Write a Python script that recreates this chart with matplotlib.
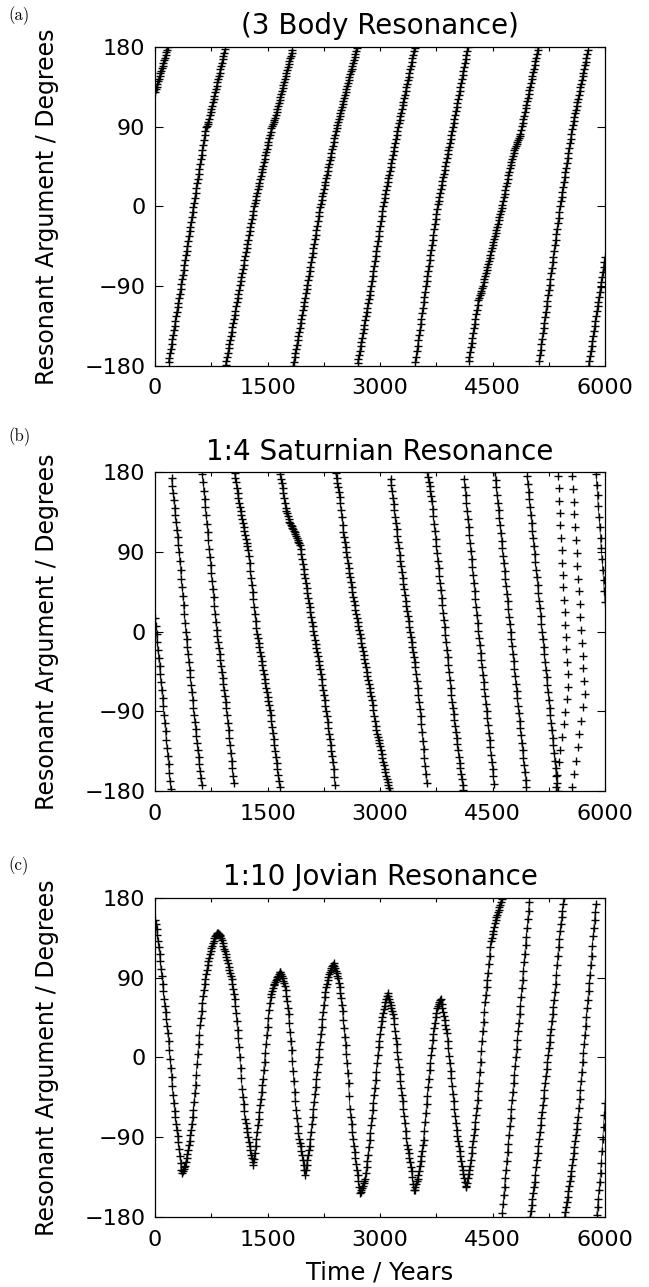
import numpy as np
import matplotlib
matplotlib.use("Agg")
import matplotlib.pyplot as plt
from matplotlib.ticker import MultipleLocator, FixedLocator

NAN = float('nan')

# ---------------- data ----------------
years = [
    0, 10, 20, 30, 40, 50, 60, 70, 80, 90, 100, 110, 120, 130, 140, 150, 160, 170, 180, 190,
    200, 210, 220, 230, 240, 250, 260, 270, 280, 290, 300, 310, 320, 330, 340, 350, 360, 370, 380, 390,
    400, 410, 420, 430, 440, 450, 460, 470, 480, 490, 500, 510, 520, 530, 540, 550, 560, 570, 580, 590,
    600, 610, 620, 630, 640, 650, 660, 670, 680, 690, 700, 710, 720, 730, 740, 750, 760, 770, 780, 790,
    800, 810, 820, 830, 840, 850, 860, 870, 880, 890, 900, 910, 920, 930, 940, 950, 960, 970, 980, 990,
    1000, 1010, 1020, 1030, 1040, 1050, 1060, 1070, 1080, 1090, 1100, 1110, 1120, 1130, 1140, 1150, 1160, 1170, 1180, 1190,
    1200, 1210, 1220, 1230, 1240, 1250, 1260, 1270, 1280, 1290, 1300, 1310, 1320, 1330, 1340, 1350, 1360, 1370, 1380, 1390,
    1400, 1410, 1420, 1430, 1440, 1450, 1460, 1470, 1480, 1490, 1500, 1510, 1520, 1530, 1540, 1550, 1560, 1570, 1580, 1590,
    1600, 1610, 1620, 1630, 1640, 1650, 1660, 1670, 1680, 1690, 1700, 1710, 1720, 1730, 1740, 1750, 1760, 1770, 1780, 1790,
    1800, 1810, 1820, 1830, 1840, 1850, 1860, 1870, 1880, 1890, 1900, 1910, 1920, 1930, 1940, 1950, 1960, 1970, 1980, 1990,
    2000, 2010, 2020, 2030, 2040, 2050, 2060, 2070, 2080, 2090, 2100, 2110, 2120, 2130, 2140, 2150, 2160, 2170, 2180, 2190,
    2200, 2210, 2220, 2230, 2240, 2250, 2260, 2270, 2280, 2290, 2300, 2310, 2320, 2330, 2340, 2350, 2360, 2370, 2380, 2390,
    2400, 2410, 2420, 2430, 2440, 2450, 2460, 2470, 2480, 2490, 2500, 2510, 2520, 2530, 2540, 2550, 2560, 2570, 2580, 2590,
    2600, 2610, 2620, 2630, 2640, 2650, 2660, 2670, 2680, 2690, 2700, 2710, 2720, 2730, 2740, 2750, 2760, 2770, 2780, 2790,
    2800, 2810, 2820, 2830, 2840, 2850, 2860, 2870, 2880, 2890, 2900, 2910, 2920, 2930, 2940, 2950, 2960, 2970, 2980, 2990,
    3000, 3010, 3020, 3030, 3040, 3050, 3060, 3070, 3080, 3090, 3100, 3110, 3120, 3130, 3140, 3150, 3160, 3170, 3180, 3190,
    3200, 3210, 3220, 3230, 3240, 3250, 3260, 3270, 3280, 3290, 3300, 3310, 3320, 3330, 3340, 3350, 3360, 3370, 3380, 3390,
    3400, 3410, 3420, 3430, 3440, 3450, 3460, 3470, 3480, 3490, 3500, 3510, 3520, 3530, 3540, 3550, 3560, 3570, 3580, 3590,
    3600, 3610, 3620, 3630, 3640, 3650, 3660, 3670, 3680, 3690, 3700, 3710, 3720, 3730, 3740, 3750, 3760, 3770, 3780, 3790,
    3800, 3810, 3820, 3830, 3840, 3850, 3860, 3870, 3880, 3890, 3900, 3910, 3920, 3930, 3940, 3950, 3960, 3970, 3980, 3990,
    4000, 4010, 4020, 4030, 4040, 4050, 4060, 4070, 4080, 4090, 4100, 4110, 4120, 4130, 4140, 4150, 4160, 4170, 4180, 4190,
    4200, 4210, 4220, 4230, 4240, 4250, 4260, 4270, 4280, 4290, 4300, 4310, 4320, 4330, 4340, 4350, 4360, 4370, 4380, 4390,
    4400, 4410, 4420, 4430, 4440, 4450, 4460, 4470, 4480, 4490, 4500, 4510, 4520, 4530, 4540, 4550, 4560, 4570, 4580, 4590,
    4600, 4610, 4620, 4630, 4640, 4650, 4660, 4670, 4680, 4690, 4700, 4710, 4720, 4730, 4740, 4750, 4760, 4770, 4780, 4790,
    4800, 4810, 4820, 4830, 4840, 4850, 4860, 4870, 4880, 4890, 4900, 4910, 4920, 4930, 4940, 4950, 4960, 4970, 4980, 4990,
    5000, 5010, 5020, 5030, 5040, 5050, 5060, 5070, 5080, 5090, 5100, 5110, 5120, 5130, 5140, 5150, 5160, 5170, 5180, 5190,
    5200, 5210, 5220, 5230, 5240, 5250, 5260, 5270, 5280, 5290, 5300, 5310, 5320, 5330, 5340, 5350, 5360, 5370, 5380, 5390,
    5400, 5410, 5420, 5430, 5440, 5450, 5460, 5470, 5480, 5490, 5500, 5510, 5520, 5530, 5540, 5550, 5560, 5570, 5580, 5590,
    5600, 5610, 5620, 5630, 5640, 5650, 5660, 5670, 5680, 5690, 5700, 5710, 5720, 5730, 5740, 5750, 5760, 5770, 5780, 5790,
    5800, 5810, 5820, 5830, 5840, 5850, 5860, 5870, 5880, 5890, 5900, 5910, 5920, 5930, 5940, 5950, 5960, 5970, 5980, 5990,
    6000]

# (a) 3 body resonance, degrees
phi_three_body = [
    129.0, 132.0, 134.9, 137.9, 140.9, 143.9, 146.8, 149.8, 152.7, 155.7, 158.7, 161.7, 164.6, 167.6, 170.5, 173.5, 176.4, 179.4, -175.9, -170.7,
    -165.5, -160.4, -155.2, -150.0, -144.8, -139.7, -134.5, -129.3, -124.1, -119.0, -113.8, -108.6, -103.4, -98.3, -93.1, -87.8, -82.4, -77.0, -71.6, -66.2,
    -60.7, -55.3, -49.9, -44.5, -39.0, -33.6, -28.2, -22.8, -17.4, -12.0, -6.5, -1.1, 4.3, 9.7, 15.1, 20.5, 25.9, 31.3, 36.7, 42.1,
    47.5, 52.9, 58.3, 63.7, 69.1, 74.5, 79.9, 85.3, 89.0, 91.0, 93.0, 95.0, 98.7, 102.5, 106.2, 109.9, 113.6, 117.4, 121.1, 124.8,
    128.5, 132.3, 136.0, 139.8, 143.5, 147.2, 150.9, 154.7, 158.4, 162.1, 165.8, 169.6, 173.3, 177.0, -179.1, -174.4, -169.6, -164.9, -160.1, -155.4,
    -150.6, -145.9, -141.2, -136.5, -131.7, -127.0, -122.2, -117.5, -112.7, -108.0, -103.3, -98.6, -93.8, -89.1, -84.4, -79.7, -75.0, -70.3, -65.6, -61.0,
    -56.3, -51.6, -46.9, -42.2, -37.5, -32.8, -28.1, -23.5, -18.8, -14.1, -9.4, -4.7, 0.0, 3.9, 7.7, 11.5, 15.3, 19.2, 23.0, 26.8,
    30.6, 34.5, 38.3, 42.2, 46.0, 49.8, 53.6, 57.5, 61.3, 65.1, 68.9, 72.8, 76.6, 80.5, 84.3, 88.1, 91.1, 93.4, 95.6, 97.8,
    100.0, 103.4, 106.7, 110.0, 113.3, 116.7, 120.0, 123.4, 126.7, 130.0, 133.3, 136.7, 140.0, 143.4, 146.7, 150.0, 153.3, 156.7, 160.0, 163.4,
    166.7, 170.0, 173.3, 176.7, -179.8, -175.2, -170.4, -165.6, -160.7, -155.9, -151.1, -146.3, -141.5, -136.7, -131.9, -127.1, -122.2, -117.4, -112.6, -107.8,
    -103.0, -98.2, -93.4, -88.4, -83.3, -78.2, -73.0, -67.9, -62.7, -57.6, -52.5, -47.4, -42.2, -37.1, -31.9, -26.8, -21.6, -16.5, -11.3, -6.2,
    -1.0, 3.2, 7.3, 11.4, 15.5, 19.6, 23.6, 27.7, 31.8, 35.9, 39.9, 44.0, 48.1, 52.2, 56.2, 60.3, 64.3, 68.4, 72.5, 76.6,
    80.6, 84.7, 88.8, 92.2, 95.6, 99.0, 102.3, 105.6, 108.9, 112.3, 115.6, 118.9, 122.2, 125.6, 128.9, 132.2, 135.5, 138.8, 142.1, 145.5,
    148.8, 152.1, 155.4, 158.8, 162.1, 165.4, 168.7, 172.1, 175.4, 178.7, -177.1, -172.3, -167.4, -162.6, -157.7, -152.9, -148.1, -143.3, -138.4, -133.6,
    -128.7, -123.9, -119.0, -114.2, -109.4, -104.6, -99.7, -94.9, -90.0, -84.4, -78.8, -73.2, -67.5, -61.9, -56.3, -50.7, -45.0, -39.4, -33.8, -28.2,
    -22.5, -16.9, -11.3, -5.7, 0.0, 4.5, 9.0, 13.5, 17.9, 22.4, 26.9, 31.4, 35.8, 40.3, 44.8, 49.3, 53.7, 58.2, 62.7, 67.2,
    71.6, 76.1, 80.6, 85.1, 89.6, 93.7, 97.7, 101.8, 105.8, 109.9, 113.9, 118.0, 122.0, 126.1, 130.1, 134.2, 138.2, 142.3, 146.4, 150.5,
    154.5, 158.6, 162.6, 166.7, 170.7, 174.8, 178.8, -175.7, -169.6, -163.5, -157.3, -151.2, -145.1, -139.0, -132.9, -126.8, -120.6, -114.5, -108.4, -102.3,
    -96.1, -90.0, -84.2, -78.4, -72.6, -66.8, -61.0, -55.2, -49.4, -43.6, -37.7, -31.9, -26.1, -20.3, -14.5, -8.7, -2.9, 2.2, 6.5, 10.9,
    15.2, 19.6, 23.9, 28.3, 32.6, 37.0, 41.3, 45.7, 50.0, 54.4, 58.7, 63.1, 67.4, 71.8, 76.1, 80.5, 84.8, 89.1, 93.6, 98.2,
    102.7, 107.3, 111.8, 116.4, 120.9, 125.5, 130.0, 134.6, 139.1, 143.7, 148.2, 152.8, 157.3, 161.9, 166.4, 171.0, 175.5, 179.8, -174.7, -169.4,
    -164.1, -158.8, -153.6, -148.3, -143.0, -137.7, -132.4, -127.2, -121.9, -116.6, -111.3, -106.0, -103.3, -100.5, -97.8, -95.1, -92.4, -89.3, -85.8, -82.3,
    -78.8, -75.3, -71.8, -68.4, -64.9, -61.4, -57.9, -54.4, -50.9, -47.4, -43.9, -40.5, -37.0, -33.5, -30.0, -26.5, -22.9, -19.4, -15.9, -12.4,
    -8.8, -5.3, -1.8, 2.0, 6.1, 10.2, 14.3, 18.4, 22.5, 26.6, 30.7, 34.8, 38.9, 43.0, 46.6, 49.9, 53.2, 56.5, 59.7, 63.0,
    65.4, 67.8, 70.1, 72.5, 74.9, 77.3, 79.6, 82.0, 86.1, 90.1, 94.2, 98.3, 102.4, 106.4, 110.5, 114.6, 118.6, 122.7, 126.8, 130.8,
    134.9, 139.0, 143.1, 147.2, 151.3, 155.4, 159.5, 163.6, 167.7, 171.8, 175.9, 179.9, -173.9, -167.8, -161.6, -155.5, -149.4, -143.3, -137.2, -131.1,
    -124.9, -118.8, -112.7, -106.6, -100.5, -94.4, -88.2, -82.0, -75.7, -69.4, -63.0, -56.7, -50.4, -44.1, -37.8, -31.5, -25.2, -18.9, -12.6, -6.3,
    0.0, 5.5, 10.9, 16.4, 21.8, 27.3, 32.7, 38.2, 43.6, 49.1, 54.5, 60.0, 65.5, 71.0, 76.4, 81.9, 87.3, 92.1, 96.3, 100.5,
    104.7, 108.9, 113.0, 117.2, 121.4, 125.6, 129.8, 134.0, 138.1, 142.3, 146.5, 150.7, 154.9, 159.1, 163.3, 167.5, 171.6, 175.8, -179.8, -174.4,
    -168.8, -163.2, -157.6, -152.1, -146.5, -140.9, -135.3, -129.7, -124.1, -118.5, -112.9, -107.3, -101.7, -96.1, -90.5, -85.0, -79.4, -73.8, -68.2, -62.6,
    -57.0]

# (b) 1:4 Saturnian resonance, degrees (NAN where this track is not sampled)
phi_saturn = [
    15.0, 6.0, -3.0, -12.0, -21.0, -30.0, -39.0, -48.0, -57.0, -66.0, -75.0, -84.4, -93.8, -103.1, -112.5, -121.9, -131.3, -140.6, -150.0, -159.4,
    -168.8, -178.1, 173.3, 165.0, 156.7, 148.3, 140.0, 131.7, 123.3, 115.0, 106.7, 98.3, 90.0, 80.0, 70.0, 60.0, 50.0, 40.0, 30.0, 20.0,
    10.0, 0.0, -8.6, -17.1, -25.7, -34.3, -42.9, -51.4, -60.0, -68.6, -77.1, -85.7, -94.0, -101.9, -109.9, -117.9, -125.8, -133.8, -141.8, -149.7,
    -157.7, -165.7, -173.6, 178.1, 168.8, 159.4, 150.0, 140.6, 131.3, 121.9, 112.5, 103.1, 93.8, 84.5, 75.3, 66.1, 57.0, 47.8, 38.6, 29.4,
    20.2, 11.0, 1.8, -5.4, -12.2, -19.0, -25.7, -32.5, -39.2, -46.0, -52.8, -59.5, -66.3, -73.1, -79.8, -86.6, -94.3, -102.9, -111.4, -120.0,
    -128.6, -137.1, -145.7, -154.3, -162.9, -171.4, 179.5, 174.1, 168.8, 162.6, 156.5, 150.6, 145.8, 141.2, 136.6, 131.9, 127.3, 122.7, 118.1, 113.7,
    109.3, 104.9, 100.5, 96.2, 91.8, 85.1, 77.0, 68.9, 60.8, 52.7, 44.6, 36.5, 28.4, 20.3, 12.2, 4.1, -2.5, -7.6, -12.6, -17.7,
    -22.8, -27.8, -32.9, -37.9, -43.0, -48.1, -53.1, -58.2, -63.2, -68.3, -73.3, -78.4, -83.4, -88.5, -94.7, -101.4, -108.1, -114.8, -121.6, -128.3,
    -135.0, -141.7, -148.4, -155.1, -161.9, -168.6, -175.3, 178.4, 172.9, 167.4, 161.9, 156.4, 151.0, 145.5, 140.0, 136.8, 133.6, 130.4, 127.2, 124.0,
    122.3, 120.6, 118.9, 117.1, 115.4, 113.7, 112.0, 109.9, 107.9, 105.8, 103.8, 101.7, 99.7, 97.6, 93.1, 87.6, 82.1, 76.6, 71.1, 65.6,
    60.1, 54.6, 49.1, 43.7, 38.3, 32.9, 27.5, 22.1, 16.7, 11.3, 5.9, 0.5, -4.2, -9.0, -13.7, -18.4, -23.1, -27.9, -32.6, -37.3,
    -42.0, -48.0, -53.9, -59.9, -65.8, -71.8, -77.7, -83.7, -89.6, -95.6, -102.1, -108.6, -115.1, -121.6, -128.0, -134.5, -141.0, -147.5, -154.7, -163.8,
    -172.8, 178.9, 173.6, 168.2, 162.9, 157.5, 152.2, 145.7, 137.5, 129.3, 121.0, 112.8, 106.8, 101.1, 95.3, 89.6, 83.8, 78.0, 72.3, 66.8,
    61.3, 55.8, 50.3, 44.8, 39.2, 34.3, 29.6, 25.0, 20.4, 15.8, 11.1, 6.5, 1.8, -2.9, -7.6, -12.3, -16.9, -21.6, -26.3, -31.0,
    -35.7, -40.4, -45.1, -49.7, -54.2, -58.8, -63.3, -67.9, -72.4, -77.2, -83.0, -88.9, -94.8, -100.7, -106.5, -111.5, -115.1, -118.8, -122.4, -126.0,
    -129.5, -133.8, -138.1, -142.6, -147.1, -151.1, -155.1, -159.1, -163.0, -166.4, -169.8, -173.2, -176.6, -179.9, 172.9, 165.7, 158.6, 151.4, 144.3, 137.1,
    130.0, 122.9, 115.7, 108.6, 101.4, 94.3, 87.1, 80.0, 73.6, 67.1, 60.7, 54.3, 47.9, 41.4, 35.0, 29.2, 23.3, 17.5, 11.7, 5.8,
    0.0, -5.7, -11.4, -17.1, -22.9, -28.6, -34.3, -40.0, -47.9, -55.7, -63.6, -71.4, -79.3, -87.1, -95.0, -104.4, -113.9, -123.3, -132.8, -142.2,
    -151.7, -161.1, -170.6, 179.9, 174.7, 169.3, 164.0, 158.6, 153.3, 147.3, 138.9, 130.5, 122.0, 113.6, 105.2, 96.8, 88.3, 79.9, 71.5, 63.2,
    54.9, 46.6, 38.3, 29.9, 21.6, 13.3, 5.0, -3.5, -12.0, -20.5, -29.0, -37.6, -46.1, -54.6, -63.2, -71.7, -79.4, -86.3, -93.1, -100.0,
    -106.8, -113.7, -120.5, -127.4, -134.2, -141.1, -147.9, -154.4, -160.5, -166.6, -172.7, -178.8, 172.8, 163.7, 154.7, 145.6, 136.6, 127.5, 118.5, 109.4,
    100.4, 91.3, 82.3, 73.2, 64.2, 55.1, 46.1, 37.0, 28.0, 18.9, 9.9, 0.9, -7.4, -15.6, -23.8, -32.1, -40.3, -48.5, -56.7, -65.0,
    -73.2, -81.4, -89.6, -97.8, -106.0, -114.3, -122.5, -130.7, -138.9, -147.1, -155.3, -163.6, -171.8, 179.9, 171.4, 162.9, 154.3, 145.7, 137.1, 128.6,
    120.0, 111.4, 102.9, 94.3, 85.7, 77.1, 68.6, 60.0, 51.4, 42.9, 34.3, 25.7, 17.1, 8.6, 0.0, -8.4, -16.7, -25.1, -33.5, -41.9,
    -50.2, -58.6, -67.0, -75.3, -83.7, -92.1, -100.5, -108.8, -117.2, -125.6, -134.0, -142.3, -150.7, -159.1, -167.4, -175.8, 175.6, 166.8, 158.0, 149.3,
    140.5, 131.7, 122.9, 114.2, 105.4, 96.6, 87.8, 79.0, 70.2, 61.5, 52.7, 43.9, 35.1, 26.4, 17.6, 8.8, 0.0, -8.6, -17.1, -25.7,
    -34.3, -42.9, -51.4, -60.0, -68.6, -77.1, -85.7, -94.3, -102.9, -111.4, -120.0, -128.6, -137.1, -145.7, -154.3, -162.9, -171.4, -179.9, NAN, NAN,
    NAN, NAN, NAN, NAN, NAN, NAN, NAN, NAN, NAN, NAN, NAN, NAN, NAN, NAN, NAN, NAN, NAN, NAN, NAN, NAN,
    NAN, NAN, NAN, NAN, NAN, NAN, NAN, NAN, NAN, NAN, NAN, NAN, NAN, NAN, NAN, NAN, NAN, NAN, NAN, NAN,
    NAN, NAN, NAN, NAN, NAN, NAN, NAN, NAN, 178.0, 166.0, 154.0, 142.0, 130.0, 118.0, 106.0, 94.0, 82.0, 70.0, 58.0, 46.0,
    34.0]

# (b) fast-circulating stretch: isolated samples (no connecting line in the original)
saturn_fast_years = [
    5372, 5380, 5388, 5396, 5404, 5412, 5420, 5428, 5436, 5445, 5453, 5461, 5469, 5477, 5485, 5493, 5501, 5509,
    5344, 5365, 5385, 5406, 5426, 5447, 5468, 5488,
    5564, 5574, 5583, 5593, 5603, 5613, 5622, 5632, 5642, 5651, 5661, 5671, 5680, 5690, 5700, 5710, 5719, 5729,
    5564, 5588, 5611, 5635, 5658, 5682, 5706]
saturn_fast_phi = [
    176.0, 162.0, 148.0, 134.0, 120.0, 106.0, 92.0, 78.0, 64.0, 50.0, 36.0, 22.0, 8.0, -6.0, -20.0, -34.0, -48.0, -62.0,
    -176.0, -161.8, -147.5, -133.3, -119.0, -104.8, -90.5, -76.3,
    176.0, 161.5, 147.0, 132.5, 118.0, 103.5, 89.0, 74.5, 60.0, 45.5, 31.0, 16.5, 2.0, -12.5, -27.0, -41.5, -56.0, -70.5,
    -176.0, -160.9, -145.8, -130.7, -115.6, -100.5, -85.4]

# (c) 1:10 Jovian resonance, degrees
phi_jupiter = [
    155.0, 150.0, 145.0, 138.4, 131.7, 124.1, 116.5, 108.2, 99.8, 91.2, 82.5, 74.3, 66.0, 58.3, 50.6, 42.9, 35.1, 27.0, 18.9, 8.5,
    -2.0, -12.0, -22.0, -32.4, -42.8, -51.5, -60.2, -67.6, -74.9, -81.7, -88.5, -96.0, -103.4, -111.3, -119.2, -126.5, -130.2, -128.2, -126.1, -124.1,
    -122.0, -117.7, -113.4, -109.1, -104.7, -99.3, -93.8, -88.0, -82.2, -74.9, -67.5, -58.9, -50.2, -40.6, -30.9, -19.4, -7.8, 3.7, 15.1, 25.6,
    36.0, 44.4, 52.8, 61.2, 69.6, 75.9, 82.2, 88.0, 93.8, 98.8, 103.8, 108.1, 112.4, 116.2, 120.0, 122.9, 125.7, 128.5, 131.3, 134.2,
    137.0, 137.9, 138.8, 139.7, 140.6, 139.4, 138.2, 136.4, 134.6, 132.0, 129.3, 126.0, 122.7, 119.4, 116.0, 112.7, 109.3, 105.9, 102.4, 99.0,
    95.5, 92.1, 88.7, 83.2, 77.6, 71.8, 66.0, 58.0, 49.9, 40.6, 31.3, 21.5, 11.6, 0.1, -11.5, -23.8, -36.1, -44.4, -52.6, -60.8,
    -69.0, -74.3, -79.5, -84.7, -89.9, -94.9, -99.8, -104.7, -109.6, -113.8, -118.0, -121.5, -115.0, -107.3, -99.6, -91.9, -84.2, -76.7, -69.1, -61.6,
    -54.0, -46.5, -39.0, -31.5, -24.0, -14.5, -5.0, 5.0, 15.0, 24.8, 34.5, 44.1, 53.6, 61.0, 68.3, 71.7, 75.0, 78.2, 81.4, 83.2,
    85.0, 86.8, 88.5, 90.3, 92.1, 93.9, 95.7, 96.6, 93.8, 91.4, 89.0, 86.6, 84.2, 80.3, 76.3, 69.7, 63.0, 56.0, 49.0, 38.8,
    28.5, 18.3, 8.0, -3.6, -15.2, -27.0, -38.8, -49.0, -59.1, -68.4, -77.7, -84.8, -91.9, -96.2, -100.5, -105.2, -109.9, -115.7, -121.4, -127.2,
    -133.0, -127.4, -121.8, -116.2, -110.6, -105.0, -99.4, -91.8, -84.1, -75.6, -67.1, -58.6, -50.1, -41.6, -33.1, -24.7, -16.3, -7.9, 0.5, 9.0,
    17.4, 25.9, 34.3, 42.7, 51.1, 59.5, 67.9, 73.4, 78.9, 83.2, 87.4, 90.7, 94.0, 96.3, 98.6, 100.9, 103.1, 104.6, 106.1, 103.3,
    100.5, 97.7, 94.8, 92.0, 89.1, 84.0, 78.8, 73.0, 67.2, 59.5, 51.7, 42.4, 33.1, 23.5, 13.8, 3.6, -6.6, -17.5, -28.4, -43.2,
    -58.0, -66.7, -75.3, -83.9, -92.5, -99.6, -106.7, -113.4, -120.0, -126.5, -133.0, -139.4, -145.7, -152.5, -152.2, -149.7, -147.1, -144.6, -142.1, -139.6,
    -137.0, -130.2, -123.4, -116.6, -109.7, -101.6, -93.5, -85.1, -76.6, -68.2, -59.8, -51.4, -42.9, -34.2, -25.5, -16.2, -6.8, 2.3, 11.3, 18.9,
    26.4, 34.0, 41.5, 45.9, 50.2, 54.2, 58.2, 62.2, 66.2, 69.1, 72.0, 68.8, 65.5, 62.3, 59.0, 55.8, 52.5, 48.6, 44.7, 37.2,
    29.6, 22.1, 14.5, 6.2, -2.1, -10.5, -18.9, -26.8, -34.6, -42.2, -49.7, -57.8, -65.8, -74.4, -83.0, -90.8, -98.5, -103.4, -108.3, -113.3,
    -118.2, -123.1, -128.0, -135.2, -142.4, -149.0, -149.7, -146.5, -143.2, -139.9, -136.6, -132.3, -128.0, -122.4, -116.8, -111.2, -105.5, -99.3, -93.0, -83.0,
    -73.0, -63.0, -53.0, -43.4, -33.8, -24.3, -14.7, -6.1, 2.5, 10.8, 19.0, 26.2, 33.3, 39.2, 45.1, 50.1, 55.1, 57.4, 59.7, 62.0,
    64.2, 65.3, 60.4, 55.7, 51.0, 46.3, 41.6, 36.9, 32.2, 27.6, 18.7, 10.3, 1.9, -6.6, -15.0, -23.7, -32.3, -40.9, -49.5, -57.7,
    -65.9, -74.2, -82.4, -88.4, -94.4, -100.2, -105.9, -111.7, -117.4, -122.4, -127.4, -131.9, -136.3, -140.8, -145.3, -146.5, -141.3, -136.5, -131.6, -126.8,
    -122.0, -115.2, -108.4, -101.6, -94.7, -87.9, -81.1, -73.2, -65.2, -56.8, -48.3, -38.4, -28.4, -16.6, -4.7, 6.9, 18.4, 29.3, 40.2, 51.1,
    62.0, 70.4, 78.8, 87.2, 95.6, 105.1, 114.5, 124.0, 131.0, 135.0, 139.0, 143.0, 147.0, 151.0, 155.0, 157.9, 160.7, 163.5, 166.3, 169.2,
    172.0, 175.2, 178.4, -175.1, -165.4, -155.7, -145.9, -136.2, -126.5, -116.8, -107.0, -97.3, -87.6, -77.8, -68.1, -58.4, -48.6, -38.9, -29.2, -19.4,
    -9.7, 0.0, 9.7, 19.5, 29.2, 38.9, 48.7, 58.4, 68.1, 77.8, 87.6, 97.3, 107.0, 116.8, 126.5, 136.2, 146.0, 155.7, 165.4, 175.1,
    -179.5, -173.1, -166.7, -160.0, -153.3, -146.7, -140.0, -132.1, -124.1, -116.1, -108.0, -99.9, -91.7, -84.1, -76.4, -68.8, -61.2, -53.4, -45.5, -37.3,
    -29.1, -20.9, -12.7, -5.0, 2.7, 10.2, 17.6, 25.1, 32.5, 40.6, 48.7, 56.9, 65.1, 73.7, 82.3, 93.4, 104.5, 114.5, 124.4, 133.4,
    142.3, 150.2, 158.0, 165.4, 172.7, 179.9, -179.5, -174.0, -168.5, -162.7, -156.9, -151.2, -145.4, -139.6, -133.8, -127.9, -121.9, -115.1, -108.2, -101.4,
    -94.5, -87.6, -80.7, -73.9, -67.0, -56.8, -46.6, -36.5, -26.3, -16.1, -5.8, 4.6, 14.9, 25.3, 35.6, 45.6, 55.5, 65.0, 74.4, 83.9,
    93.3, 104.0, 114.6, 125.7, 136.7, 145.9, 155.1, 164.0, 172.9, -178.1, -168.7, -159.3, -149.8, -140.3, -130.8, -118.7, -105.3, -92.0, -78.7, -65.3,
    -52.0]

titles = ["(3 Body Resonance)", "1:4 Saturnian Resonance", "1:10 Jovian Resonance"]
panel_tags = ["(a)", "(b)", "(c)"]
series = [phi_three_body, phi_saturn, phi_jupiter]
x_tick_labels = [0, 1500, 3000, 4500, 6000]
y_tick_labels = [-180, -90, 0, 90, 180]

for name, s in zip(titles, series):
    assert len(s) == len(years), (name, len(s), len(years))
assert len(saturn_fast_years) == len(saturn_fast_phi)

# ---------------- figure ----------------
W, H = 649, 1287
fig = plt.figure(figsize=(W / 100, H / 100), dpi=100)
plt.rcParams['font.family'] = ['DejaVu Sans']

# axes boxes in pixels (left, top, right, bottom)
boxes = [(155, 46.7, 605, 366), (155, 472.3, 605, 791), (155, 897.7, 605, 1217)]
tag_tops = [6, 427, 856]

MS, MEW = 5.3, 1.0


def with_breaks(t, p, limit=180.0):
    t = np.asarray(t, float)
    p = np.asarray(p, float)
    idx = np.where(np.abs(np.diff(p)) > limit)[0] + 1
    return np.insert(t, idx, np.nan), np.insert(p, idx, np.nan)


for i, (l, tp, r, b) in enumerate(boxes):
    ax = fig.add_axes([l / W, 1 - b / H, (r - l) / W, (b - tp) / H])
    t = np.asarray(years, float)
    p = np.asarray(series[i], float)
    tl, pl = with_breaks(t, p)
    ax.plot(tl, pl, color='black', lw=0.5, zorder=2)
    ax.plot(t, p, ls='none', marker='+', ms=MS, mew=MEW, color='black', zorder=3)
    if i == 1:
        ax.plot(saturn_fast_years, saturn_fast_phi, ls='none', marker='+', ms=MS, mew=MEW,
                color='black', zorder=3)

    ax.set_xlim(0, 6000)
    ax.set_ylim(-180, 180)
    ax.xaxis.set_major_locator(FixedLocator(x_tick_labels))
    ax.xaxis.set_minor_locator(MultipleLocator(750))
    ax.yaxis.set_major_locator(FixedLocator(y_tick_labels))
    ax.set_xticklabels([str(v) for v in x_tick_labels])
    ax.set_yticklabels([str(v) if v >= 0 else '\u2212' + str(-v) for v in y_tick_labels])
    ax.tick_params(axis='x', which='both', direction='in', top=True, bottom=True,
                   length=3.2, width=0.8, labelsize=16, pad=9)
    ax.tick_params(axis='y', which='both', direction='in', left=True, right=True,
                   length=6.0, width=0.8, labelsize=16, pad=7)
    for s in ax.spines.values():
        s.set_linewidth(0.9)
    ax.set_title(titles[i], fontsize=20, pad=9)

    fig.text(47 / W, 1 - ((tp + b) / 2) / H, "Resonant Argument / Degrees",
             rotation=90, ha='center', va='center', fontsize=17)
    fig.text(8 / W, 1 - tag_tops[i] / H, panel_tags[i], family='cmr10',
             fontsize=12, ha='left', va='top')

fig.text(380 / W, 1 - 1279 / H, "Time / Years", ha='center', va='baseline', fontsize=17.5)

fig.savefig("out.png", dpi=100)
